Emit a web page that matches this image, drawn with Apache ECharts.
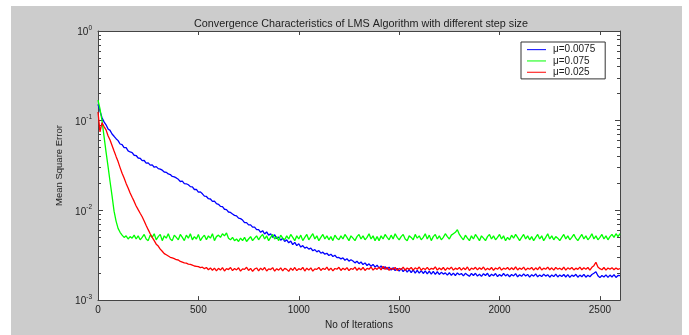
<!DOCTYPE html>
<html>
<head>
<meta charset="utf-8">
<script src="https://cdn.jsdelivr.net/npm/echarts@6/dist/echarts.min.js"></script>
<style>
html,body{margin:0;padding:0;background:#fff;width:689px;height:335px;overflow:hidden;}
#bg{position:absolute;left:11px;top:6px;width:671px;height:329px;background:#cccccc;}
#chart{position:absolute;left:0;top:0;width:689px;height:335px;}
</style>
</head>
<body>
<div id="bg"></div>
<div id="chart"></div>
<script>
// ---- data ----
const titleText = 'Convergence Characteristics of LMS Algorithm with different step size';
const xName = 'No of Iterations';
const yName = 'Mean Square Error';
const seriesNames = ['\u03bc=0.0075', '\u03bc=0.075', '\u03bc=0.025'];
const xTicks = [0, 500, 1000, 1500, 2000, 2500];
const yTicks = [0.001, 0.01, 0.1, 1];
const yMinorTicks = [0.002,0.003,0.004,0.005,0.006,0.007,0.008,0.009,
                     0.02,0.03,0.04,0.05,0.06,0.07,0.08,0.09,
                     0.2,0.3,0.4,0.5,0.6,0.7,0.8,0.9];
const iterStep = 10; // one sample read every 10 iterations, 0..2600

// mu = 0.0075 (blue)
const mseMu0075 = [
 0.152,0.128,0.108,0.097,0.090,0.081,0.078,0.071,0.067,0.063,      // 0-90
 0.060,0.055,0.054,0.050,0.050,0.046,0.0448,0.0440,0.0412,0.0409, // 100-190
 0.0384,0.0381,0.0359,0.0360,0.0336,0.0339,0.0320,0.0322,0.0303,0.0308, // 200-290
 0.0292,0.0289,0.0281,0.0268,0.0266,0.0255,0.0251,0.0239,0.0236,0.0230, // 300-390
 0.0222,0.0210,0.0212,0.0199,0.0198,0.0193,0.0184,0.0183,0.0171,0.0172, // 400-490
 0.0160,0.0161,0.0153,0.0144,0.0143,0.0135,0.0134,0.0126,0.0127,0.0119, // 500-590
 0.0117,0.0111,0.0110,0.0103,0.0102,0.0096,0.0095,0.0091,0.0088,0.0087, // 600-690
 0.0082,0.0081,0.0078,0.0073,0.0073,0.0069,0.0069,0.0065,0.0065,0.0061, // 700-790
 0.0061,0.0057,0.00595,0.00545,0.00575,0.0053,0.0055,0.0050,0.00535,0.00485, // 800-890
 0.00505,0.00465,0.0049,0.0045,0.0047,0.00435,0.00455,0.00415,0.0044,0.00405, // 900-990
 0.00425,0.0039,0.00405,0.0038,0.0039,0.0037,0.0038,0.00355,0.00365,0.00345, // 1000-1090
 0.00357,0.00333,0.00342,0.00325,0.00333,0.00314,0.00325,0.00306,0.00316,0.00298, // 1100-1190
 0.00299,0.00288,0.00296,0.00278,0.00289,0.00272,0.00282,0.00273,0.00260,0.00271, // 1200-1290
 0.00255,0.00266,0.00249,0.00260,0.00243,0.00254,0.00238,0.00250,0.00233,0.00245, // 1300-1390
 0.00227,0.00240,0.00224,0.00236,0.00220,0.00233,0.00216,0.00230,0.00213,0.00226, // 1400-1490
 0.00210,0.00224,0.00208,0.00221,0.00205,0.00219,0.00203,0.00217,0.00200,0.00215, // 1500-1590
 0.00200,0.00213,0.00198,0.00212,0.00196,0.00210,0.00195,0.00209,0.00194,0.00207, // 1600-1690
 0.00193,0.00204,0.00195,0.00201,0.00190,0.00202,0.00189,0.00200,0.00188,0.00201, // 1700-1790
 0.00192,0.00198,0.00186,0.00199,0.00191,0.00184,0.00198,0.00188,0.00199,0.00185, // 1800-1890
 0.00194,0.00184,0.00197,0.00188,0.00199,0.00183,0.00194,0.00187,0.00198,0.00183, // 1900-1990
 0.00193,0.00185,0.00198,0.00186,0.00194,0.00182,0.00193,0.00186,0.00197,0.00182, // 2000-2090
 0.00192,0.00184,0.00196,0.00186,0.00193,0.00180,0.00192,0.00185,0.00196,0.00182, // 2100-2190
 0.00191,0.00183,0.00195,0.00185,0.00192,0.00180,0.00191,0.00183,0.00195,0.00181, // 2200-2290
 0.00191,0.00183,0.00193,0.00181,0.00192,0.00179,0.00190,0.00184,0.00194,0.00180, // 2300-2390
 0.00190,0.00182,0.00194,0.00180,0.00189,0.00182,0.00193,0.00199,0.00207,0.00187, // 2400-2490
 0.00178,0.00188,0.00181,0.00191,0.00179,0.00190,0.00181,0.00192,0.00179,0.00188, // 2500-2590
 0.00187                                                                          // 2600
];
// mu = 0.075 (green)
const mseMu075 = [
 0.170,0.135,0.100,0.067,0.045,0.031,0.021,0.0145,0.0098,0.0076, // 0-90
 0.0063,0.0057,0.0053,0.0050,0.0052,0.0048,0.0051,0.0049,0.0053,0.0048, // 100-190
 0.0052,0.0047,0.0050,0.0054,0.0048,0.0046,0.0053,0.0050,0.0055,0.0047, // 200-290
 0.0051,0.0054,0.0046,0.0052,0.0049,0.0055,0.0048,0.0046,0.0053,0.0050, // 300-390
 0.0047,0.0054,0.0050,0.0046,0.0053,0.0049,0.0055,0.0047,0.0051,0.0048, // 400-490
 0.0054,0.0046,0.0050,0.0053,0.0047,0.0052,0.0049,0.0055,0.0046,0.0051, // 500-590
 0.0053,0.0050,0.0055,0.0052,0.0056,0.0049,0.0047,0.0050,0.0046,0.0048, // 600-690
 0.0045,0.0049,0.0046,0.0050,0.0045,0.0048,0.0051,0.0046,0.0049,0.0052, // 700-790
 0.0047,0.0051,0.0054,0.0048,0.0052,0.0046,0.0050,0.0054,0.0048,0.0051, // 800-890
 0.0046,0.0053,0.0049,0.0047,0.0052,0.0048,0.0054,0.0050,0.0046,0.0052, // 900-990
 0.0048,0.0053,0.0046,0.0050,0.0054,0.0047,0.0051,0.0055,0.0048,0.0052, // 1000-1090
 0.0046,0.0050,0.0054,0.0048,0.0052,0.0047,0.0051,0.0046,0.0053,0.0049, // 1100-1190
 0.0047,0.0052,0.0048,0.0054,0.0050,0.0046,0.0052,0.0049,0.0046,0.0051, // 1200-1290
 0.0054,0.0048,0.0052,0.0047,0.0050,0.0055,0.0048,0.0052,0.0046,0.0051, // 1300-1390
 0.0046,0.0052,0.0048,0.0054,0.0050,0.0047,0.0053,0.0048,0.0055,0.0050, // 1400-1490
 0.0047,0.0051,0.0054,0.0048,0.0046,0.0052,0.0050,0.0047,0.0054,0.0049, // 1500-1590
 0.0052,0.0047,0.0050,0.0055,0.0048,0.0053,0.0046,0.0051,0.0054,0.0048, // 1600-1690
 0.0052,0.0047,0.0050,0.0055,0.0051,0.0048,0.0053,0.0055,0.0057,0.0061, // 1700-1790
 0.0054,0.0050,0.0047,0.0053,0.0049,0.0046,0.0052,0.0048,0.0054,0.0050, // 1800-1890
 0.0046,0.0052,0.0049,0.0046,0.0051,0.0054,0.0048,0.0052,0.0047,0.0050, // 1900-1990
 0.0054,0.0048,0.0052,0.0046,0.0050,0.0047,0.0053,0.0049,0.0054,0.0050, // 2000-2090
 0.0046,0.0050,0.0054,0.0048,0.0052,0.0047,0.0051,0.0046,0.0050,0.0054, // 2100-2190
 0.0048,0.0052,0.0046,0.0050,0.0055,0.0048,0.0052,0.0047,0.0051,0.0049, // 2200-2290
 0.0046,0.0050,0.0054,0.0048,0.0052,0.0047,0.0050,0.0054,0.0049,0.0046, // 2300-2390
 0.0050,0.0054,0.0048,0.0052,0.0047,0.0050,0.0055,0.0048,0.0052,0.0047, // 2400-2490
 0.0050,0.0054,0.0048,0.0052,0.0047,0.0051,0.0054,0.0050,0.0055,0.0051, // 2500-2590
 0.0055                                                                // 2600
];
// mu = 0.025 (red)
const mseMu025 = [
 0.125,0.075,0.095,0.086,0.079,0.068,0.061,0.053,0.046,0.040, // 0-90
 0.035,0.030,0.026,0.023,0.020,0.0178,0.0156,0.0140,0.0126,0.0112, // 100-190
 0.0102,0.0093,0.0085,0.0076,0.0068,0.0061,0.0055,0.0050,0.0046,0.0042, // 200-290
 0.0040,0.0037,0.0035,0.0033,0.0032,0.0031,0.0030,0.00295,0.0029,0.00282, // 300-390
 0.0028,0.0027,0.00265,0.0026,0.00258,0.00252,0.0025,0.00245,0.0024,0.00238, // 400-490
 0.00236,0.00230,0.00233,0.00224,0.00231,0.00218,0.00228,0.00215,0.00227,0.00212, // 500-590
 0.00226,0.00216,0.00230,0.00211,0.00224,0.00219,0.00231,0.00213,0.00225,0.00217, // 600-690
 0.00229,0.00210,0.00223,0.00220,0.00232,0.00214,0.00226,0.00209,0.00222,0.00228, // 700-790
 0.00212,0.00227,0.00217,0.00231,0.00211,0.00223,0.00219,0.00230,0.00210,0.00224, // 800-890
 0.00216,0.00229,0.00212,0.00226,0.00220,0.00209,0.00227,0.00215,0.00231,0.00213, // 900-990
 0.00224,0.00218,0.00232,0.00211,0.00227,0.00216,0.00229,0.00210,0.00223,0.00220, // 1000-1090
 0.00231,0.00214,0.00226,0.00219,0.00233,0.00215,0.00227,0.00212,0.00225,0.00221, // 1100-1190
 0.00232,0.00214,0.00227,0.00218,0.00230,0.00213,0.00225,0.00220,0.00233,0.00215, // 1200-1290
 0.00228,0.00217,0.00231,0.00214,0.00226,0.00221,0.00234,0.00216,0.00228,0.00220, // 1300-1390
 0.00233,0.00217,0.00238,0.00220,0.00232,0.00215,0.00227,0.00219,0.00231,0.00214, // 1400-1490
 0.00226,0.00219,0.00233,0.00215,0.00228,0.00220,0.00231,0.00216,0.00229,0.00221, // 1500-1590
 0.00234,0.00215,0.00227,0.00219,0.00232,0.00217,0.00226,0.00221,0.00235,0.00216, // 1600-1690
 0.00228,0.00218,0.00231,0.00214,0.00229,0.00221,0.00233,0.00216,0.00227,0.00220, // 1700-1790
 0.00231,0.00216,0.00229,0.00218,0.00234,0.00214,0.00227,0.00221,0.00232,0.00217, // 1800-1890
 0.00229,0.00220,0.00234,0.00216,0.00227,0.00218,0.00231,0.00214,0.00228,0.00221, // 1900-1990
 0.00233,0.00216,0.00227,0.00221,0.00231,0.00217,0.00229,0.00218,0.00235,0.00217, // 2000-2090
 0.00228,0.00220,0.00233,0.00216,0.00227,0.00221,0.00231,0.00216,0.00229,0.00218, // 2100-2190
 0.00234,0.00217,0.00227,0.00221,0.00233,0.00218,0.00229,0.00216,0.00231,0.00221, // 2200-2290
 0.00227,0.00218,0.00233,0.00216,0.00229,0.00221,0.00231,0.00217,0.00227,0.00220, // 2300-2390
 0.00233,0.00218,0.00229,0.00221,0.00231,0.00216,0.00232,0.00242,0.00264,0.00234, // 2400-2490
 0.00224,0.00218,0.00231,0.00216,0.00228,0.00221,0.00230,0.00218,0.00228,0.00220, // 2500-2590
 0.00225                                                                          // 2600
];
const seriesValues = [mseMu0075, mseMu075, mseMu025];
const seriesColors = ['#0000ff', '#00ff00', '#ff0000'];

// ---- chart ----
const FONT = 'Liberation Sans, Arial, Helvetica, sans-serif';
const TXT = '#222';
const AX = '#444';
function pairs(vals){ return vals.map((v,i)=>[i*iterStep, v]); }

const chart = echarts.init(document.getElementById('chart'), null, {renderer:'canvas'});
const yLabel = {
  show:true, fontSize:10, fontFamily:FONT, color:TXT, margin:6,
  customValues: yTicks,
  formatter: v => '{b|10}{s|' + Math.round(Math.log10(v)) + '}',
  rich:{
    b:{fontSize:10, fontFamily:FONT, color:TXT, verticalAlign:'bottom'},
    s:{fontSize:6.5, fontFamily:FONT, color:TXT, verticalAlign:'bottom', padding:[0,0,6,0]}
  }
};
function logAxis(pos, opts){
  return Object.assign({
    type:'log', logBase:10, min:0.001, max:1, position:pos,
    axisLine:{show:true, lineStyle:{color:AX, width:1}},
    axisTick:{show:true, inside:true, length:5, customValues:yTicks, lineStyle:{color:AX}},
    axisLabel:{show:false},
    splitLine:{show:false}
  }, opts);
}
function minorAxis(pos){
  return {
    type:'log', logBase:10, min:0.001, max:1, position:pos,
    axisLine:{show:false},
    axisTick:{show:true, inside:true, length:3, customValues:yMinorTicks, lineStyle:{color:AX}},
    axisLabel:{show:false},
    splitLine:{show:false}
  };
}
const option = {
  backgroundColor:'transparent',
  animation:false,
  textStyle:{fontFamily:FONT},
  title:{
    text:titleText, left:356, top:14, textAlign:'center',
    textStyle:{fontSize:10.8, fontWeight:'normal', color:TXT, fontFamily:FONT}
  },
  grid:{left:98, right:69, top:31, bottom:34, show:true, backgroundColor:'#fff', borderWidth:0},
  legend:{
    data:seriesNames, orient:'vertical', left:521, top:42,
    backgroundColor:'#fff', borderColor:'#333', borderWidth:1, borderRadius:0,
    padding:[2,10,1,6], itemWidth:19, itemHeight:1, itemGap:0, icon:'rect',
    textStyle:{fontSize:10, lineHeight:11.3, fontFamily:FONT, color:TXT, padding:[0,0,0,2]}
  },
  xAxis:[
    {type:'value', min:0, max:2600, interval:500, position:'bottom',
     name:xName, nameLocation:'middle', nameGap:19,
     nameTextStyle:{fontSize:10, color:TXT, fontFamily:FONT},
     axisLine:{show:true, onZero:false, lineStyle:{color:AX}},
     axisTick:{show:true, inside:true, length:4, lineStyle:{color:AX}},
     axisLabel:{fontSize:10, color:TXT, fontFamily:FONT, margin:5,
       customValues:xTicks, formatter: v => String(v)},
     splitLine:{show:false}},
    {type:'value', min:0, max:2600, interval:500, position:'top',
     axisLine:{show:true, onZero:false, lineStyle:{color:AX}},
     axisTick:{show:true, inside:true, length:4, lineStyle:{color:AX}},
     axisLabel:{show:false}, splitLine:{show:false}}
  ],
  yAxis:[
    logAxis('left', {axisLabel:yLabel, name:yName, nameLocation:'middle', nameGap:29,
      nameTextStyle:{fontSize:9.5, color:TXT, fontFamily:FONT}}),
    minorAxis('left'),
    logAxis('right', {}),
    minorAxis('right')
  ],
  series: seriesNames.map((n,i)=>({
    name:n, type:'line', xAxisIndex:0, yAxisIndex:0,
    data:pairs(seriesValues[i]), symbol:'none', showSymbol:false,
    lineStyle:{color:seriesColors[i], width:1.3}, itemStyle:{color:seriesColors[i]},
    z:2+i
  }))
};
chart.setOption(option);
</script>
</body>
</html>
